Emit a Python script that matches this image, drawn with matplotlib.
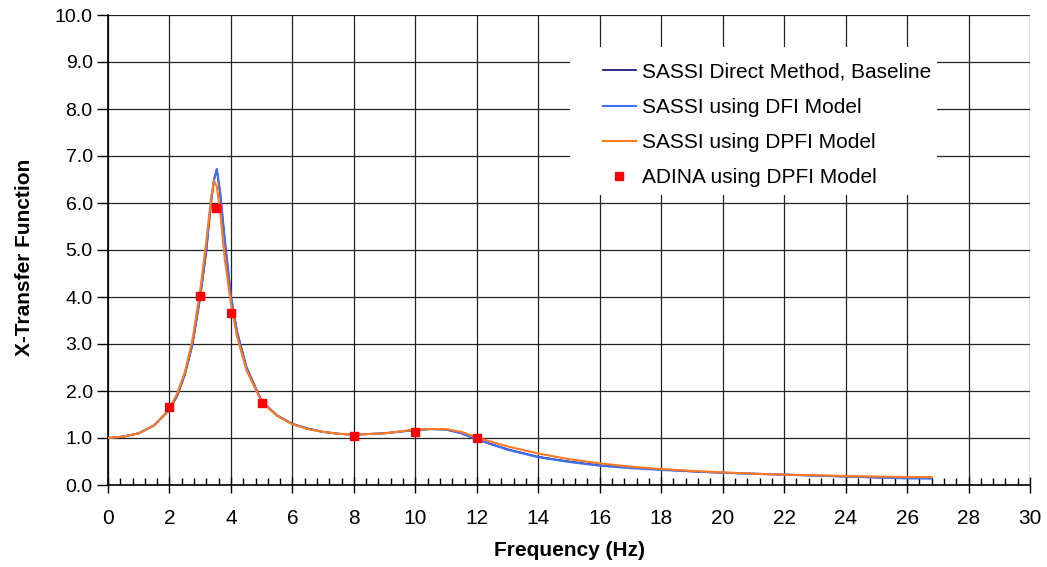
import matplotlib
matplotlib.use("Agg")
import matplotlib.pyplot as plt
from matplotlib.ticker import MultipleLocator, FormatStrFormatter
from matplotlib.patches import Rectangle

plt.rcParams['font.family'] = ['Liberation Sans', 'DejaVu Sans']

freq = [0, 0.5, 1.0, 1.5, 2.0, 2.25, 2.5, 2.75, 3.0, 3.2, 3.35, 3.45, 3.54, 3.65, 3.8,
        4.0, 4.2, 4.5, 5.0, 5.5, 6.0, 6.5, 7.0, 7.5, 8.0, 9.0, 10.0, 10.5, 11.0, 11.5,
        12.0, 13.0, 14.0, 15.0, 16.0, 17.0, 18.0, 19.0, 20.0, 21.0, 22.0, 23.0, 24.0,
        25.0, 26.0, 26.8]

baseline = [1.00, 1.03, 1.10, 1.27, 1.60, 1.90, 2.35, 3.00, 4.00, 5.00, 6.00, 6.50, 6.72,
            6.20, 5.20, 4.00, 3.25, 2.50, 1.78, 1.48, 1.30, 1.20, 1.13, 1.09, 1.07, 1.10,
            1.17, 1.19, 1.18, 1.10, 0.97, 0.76, 0.60, 0.50, 0.42, 0.37, 0.33, 0.29, 0.26,
            0.24, 0.22, 0.20, 0.18, 0.16, 0.15, 0.14]

dfi = [1.00, 1.03, 1.10, 1.27, 1.60, 1.90, 2.35, 3.00, 4.00, 5.00, 6.00, 6.50, 6.72,
       6.22, 5.22, 4.02, 3.27, 2.52, 1.78, 1.48, 1.30, 1.20, 1.13, 1.09, 1.07, 1.10,
       1.17, 1.19, 1.18, 1.10, 0.97, 0.75, 0.59, 0.49, 0.41, 0.36, 0.32, 0.29, 0.26,
       0.24, 0.22, 0.20, 0.18, 0.16, 0.14, 0.14]

dpfi = [1.00, 1.03, 1.10, 1.27, 1.62, 1.95, 2.40, 3.10, 4.15, 5.20, 6.10, 6.47, 6.35,
        5.80, 4.80, 3.85, 3.15, 2.45, 1.76, 1.47, 1.29, 1.19, 1.13, 1.09, 1.07, 1.10,
        1.18, 1.19, 1.19, 1.13, 1.01, 0.82, 0.67, 0.55, 0.46, 0.39, 0.34, 0.30, 0.27,
        0.24, 0.22, 0.21, 0.19, 0.18, 0.17, 0.17]

adina_freq = [2, 3, 3.5, 4, 5, 8, 10, 12]
adina_val = [1.67, 4.02, 5.9, 3.66, 1.75, 1.05, 1.13, 0.99]

W, H = 1047, 567
fig = plt.figure(figsize=(W/100, H/100), dpi=100)
ax = fig.add_axes([108/W, 1-485/H, (1030-108)/W, (485-15)/H])

ax.plot(freq, baseline, color='#1c1c80', lw=1.3, label='SASSI Direct Method, Baseline', zorder=3)
ax.plot(freq, dfi, color='#4070f0', lw=1.5, label='SASSI using DFI Model', zorder=4)
ax.plot(freq, dpfi, color='#ff7a20', lw=1.5, label='SASSI using DPFI Model', zorder=5)
ax.plot(adina_freq, adina_val, 's', color='#ff0000', ms=6, mec='#ff0000',
        label='ADINA using DPFI Model', zorder=6, linestyle='none')

ax.set_xlim(0, 30)
ax.set_ylim(0, 10)
ax.xaxis.set_major_locator(MultipleLocator(2))
ax.xaxis.set_minor_locator(MultipleLocator(0.4))
ax.yaxis.set_major_locator(MultipleLocator(1))
ax.yaxis.set_major_formatter(FormatStrFormatter('%.1f'))
ax.grid(True, which='major', color='#222222', lw=0.9)
ax.set_axisbelow(True)
for s in ['top', 'right']:
    ax.spines[s].set_visible(False)
for s in ['left', 'bottom']:
    ax.spines[s].set_color('black')
    ax.spines[s].set_linewidth(1.2)
ax.tick_params(axis='x', which='major', direction='inout', length=12, width=1, labelsize=15, pad=11)
ax.tick_params(axis='x', which='minor', direction='in', length=5, width=1)
ax.tick_params(axis='y', which='major', direction='out', length=8, width=1, labelsize=14, pad=3)

ax.set_xlabel('Frequency (Hz)', fontsize=15, fontweight='bold')
ax.set_ylabel('X-Transfer Function', fontsize=15, fontweight='bold')
ax.xaxis.set_label_coords(0.5 + (570 - (108 + 1030) / 2) / 922, (485 - 550) / 470)
ax.xaxis.label.set_va('center')
ax.yaxis.set_label_coords((25 - 108) / 922, (485 - 257) / 470)
ax.yaxis.label.set_va('center')

# white legend background box
ax.add_patch(Rectangle((570/W, 1-195/H), (937-570)/W, (195-47)/H, transform=fig.transFigure,
                       facecolor='white', edgecolor='none', zorder=2))

leg = ax.legend(loc='upper left', bbox_to_anchor=(588/W, 1-48/H), bbox_transform=fig.transFigure,
                frameon=False, fontsize=15, handlelength=1.6, handletextpad=0.3, labelspacing=0.78,
                borderpad=0.2, markerscale=1.0)
leg.set_zorder(10)

fig.savefig('out.png', dpi=100)
